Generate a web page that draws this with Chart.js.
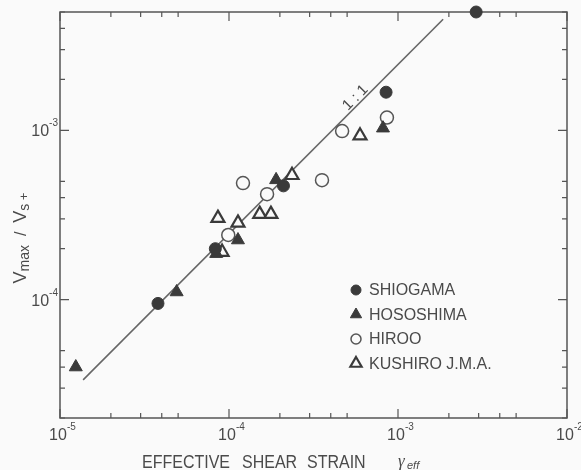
<!DOCTYPE html>
<html>
<head>
<meta charset="utf-8">
<script src="https://cdn.jsdelivr.net/npm/chart.js@4.4.1/dist/chart.umd.min.js"></script>
<style>
	html, body { margin: 0; padding: 0; background: #fafafa; }
	canvas { display: block; }
</style>
</head>
<body>
<canvas id="strainChart" width="581" height="470"></canvas>
<script>
// tick positions (log axes, minor ticks only at 2..5)
const xTickValues = [1e-5, 2e-5, 3e-5, 4e-5, 5e-5, 1e-4, 2e-4, 3e-4, 4e-4, 5e-4, 1e-3, 2e-3, 3e-3, 4e-3, 5e-3, 1e-2];
const xDecades = [1e-5, 1e-4, 1e-3, 1e-2];
const xDecadeExp = ['-5', '-4', '-3', '-2'];
const yTickValues = [2e-5, 3e-5, 4e-5, 5e-5, 1e-4, 2e-4, 3e-4, 4e-4, 5e-4, 1e-3, 2e-3, 3e-3, 4e-3, 5e-3];
const yDecades = [1e-4, 1e-3];
const yDecadeExp = ['-4', '-3'];

// stations
const shiogamaX = [2.9e-3, 8.5e-4, 2.1e-4, 8.3e-5, 3.8e-5];
const shiogamaY = [5.0e-3, 1.68e-3, 4.7e-4, 2.0e-4, 9.5e-5];

const hososhimaX = [1.24e-5, 4.9e-5, 8.4e-5, 1.13e-4, 1.9e-4, 8.15e-4];
const hososhimaY = [4.0e-5, 1.11e-4, 1.87e-4, 2.25e-4, 5.1e-4, 1.03e-3];

const hirooX = [1.21e-4, 1.68e-4, 9.9e-5, 4.67e-4, 8.6e-4, 3.55e-4];
const hirooY = [4.88e-4, 4.2e-4, 2.41e-4, 9.9e-4, 1.19e-3, 5.08e-4];

const kushiroX = [8.6e-5, 1.13e-4, 1.52e-4, 1.77e-4, 2.36e-4, 5.96e-4, 9.1e-5];
const kushiroY = [3.03e-4, 2.84e-4, 3.2e-4, 3.2e-4, 5.43e-4, 9.3e-4, 1.91e-4];

// the 1:1 line
const lineX = [1.37e-5, 1.85e-3];
const lineY = [3.36e-5, 4.53e-3];

const ink = '#3a3a3a';
const textColor = '#4a4a4a';
const paper = '#fafafa';
const sans = '"Liberation Sans", Arial, sans-serif';

function pts(xs, ys) {
	return xs.map((x, i) => ({ x: x, y: ys[i] }));
}

function isIn(v, list) {
	return list.some(d => Math.abs(v / d - 1) < 1e-6);
}

const decor = {
	id: 'decor',
	beforeDatasetsDraw(chart) {
		const ctx = chart.ctx;
		const a = chart.chartArea;
		const xs = chart.scales.x, ys = chart.scales.y;
		ctx.save();
		ctx.strokeStyle = '#555';
		ctx.lineWidth = 1.5;
		ctx.strokeRect(a.left, a.top, a.right - a.left, a.bottom - a.top);
		ctx.lineWidth = 1.2;
		ctx.beginPath();
		xTickValues.forEach(v => {
			const px = xs.getPixelForValue(v);
			const len = isIn(v, xDecades) ? 9 : 5;
			ctx.moveTo(px, a.bottom); ctx.lineTo(px, a.bottom - len);
			ctx.moveTo(px, a.top); ctx.lineTo(px, a.top + len);
		});
		yTickValues.forEach(v => {
			const py = ys.getPixelForValue(v);
			const len = isIn(v, yDecades) ? 9 : 5;
			ctx.moveTo(a.left, py); ctx.lineTo(a.left + len, py);
			ctx.moveTo(a.right, py); ctx.lineTo(a.right - len, py);
		});
		ctx.stroke();

		// decade labels: 10 with a raised exponent
		ctx.fillStyle = textColor;
		ctx.textBaseline = 'alphabetic';
		xDecades.forEach((v, i) => {
			const px = xs.getPixelForValue(v) - 2;
			ctx.font = '16px ' + sans;
			ctx.textAlign = 'center';
			ctx.fillText('10', px, 440);
			const w = ctx.measureText('10').width;
			ctx.font = '10px ' + sans;
			ctx.textAlign = 'left';
			ctx.fillText(xDecadeExp[i], px + w / 2, 430);
		});
		yDecades.forEach((v, i) => {
			const py = ys.getPixelForValue(v);
			ctx.font = '10px ' + sans;
			ctx.textAlign = 'right';
			ctx.fillText(yDecadeExp[i], 58, py - 4);
			const we = ctx.measureText(yDecadeExp[i]).width;
			ctx.font = '16px ' + sans;
			ctx.fillText('10', 58 - we, py + 6);
		});
		ctx.restore();
	},
	afterDraw(chart) {
		const ctx = chart.ctx;
		const xs = chart.scales.x, ys = chart.scales.y;
		ctx.save();
		ctx.fillStyle = textColor;

		// x title
		ctx.save();
		ctx.translate(0, 468);
		ctx.scale(1, 1.12);
		ctx.font = '16px ' + sans;
		ctx.textBaseline = 'alphabetic';
		ctx.textAlign = 'left';
		ctx.fillText('EFFECTIVE', 142, 0);
		ctx.fillText('SHEAR', 242, 0);
		ctx.fillText('STRAIN', 307, 0);
		ctx.restore();
		ctx.font = 'italic 17px "Liberation Serif", serif';
		ctx.fillText('γ', 398, 466);
		ctx.font = 'italic 11px ' + sans;
		ctx.fillText('eff', 407, 469);

		// y title, rotated
		ctx.save();
		ctx.translate(22, 238);
		ctx.rotate(-Math.PI / 2);
		const parts = [['V', 18, 0], ['max', 14, 3], ['  /  ', 16, 0], ['V', 18, 0], ['s', 14, 3], [' +', 13, 2]];
		let total = 0;
		parts.forEach(p => {
			ctx.font = p[1] + 'px ' + sans;
			total += ctx.measureText(p[0]).width;
		});
		let cx = -total / 2;
		parts.forEach(p => {
			ctx.font = p[1] + 'px ' + sans;
			ctx.fillText(p[0], cx, 4 + p[2]);
			cx += ctx.measureText(p[0]).width;
		});
		ctx.restore();

		// 1:1 label along the line
		ctx.save();
		ctx.translate(xs.getPixelForValue(5.6e-4), ys.getPixelForValue(1.56e-3));
		ctx.rotate(-Math.PI / 4);
		ctx.font = '15px ' + sans;
		ctx.textAlign = 'center';
		ctx.textBaseline = 'middle';
		ctx.fillText('1 : 1', 0, 0);
		ctx.restore();

		// legend
		const legendItems = chart.data.datasets.filter(d => d.legendRadius);
		legendItems.forEach((ds, i) => {
			const y = 290 + i * 24.5;
			ctx.fillStyle = ds.backgroundColor;
			ctx.strokeStyle = ds.borderColor;
			ctx.lineWidth = ds.borderWidth;
			Chart.helpers.drawPoint(ctx, {
				pointStyle: ds.pointStyle,
				radius: ds.legendRadius,
				borderWidth: ds.borderWidth,
				rotation: 0
			}, 356, y);
			ctx.fillStyle = textColor;
			ctx.font = '16px ' + sans;
			ctx.textAlign = 'left';
			ctx.textBaseline = 'middle';
			ctx.fillText(ds.label, 369, y + 1);
		});
		ctx.restore();
	}
};

new Chart(document.getElementById('strainChart'), {
	type: 'scatter',
	data: {
		datasets: [
			{
				label: 'SHIOGAMA',
				data: pts(shiogamaX, shiogamaY),
				pointStyle: 'circle',
				pointRadius: 6,
				legendRadius: 5,
				backgroundColor: ink,
				borderColor: ink,
				borderWidth: 1,
				clip: false
			},
			{
				label: 'HOSOSHIMA',
				data: pts(hososhimaX, hososhimaY),
				pointStyle: 'triangle',
				pointRadius: 7.5,
				legendRadius: 6.5,
				backgroundColor: ink,
				borderColor: ink,
				borderWidth: 1,
				clip: false
			},
			{
				label: 'HIROO',
				data: pts(hirooX, hirooY),
				pointStyle: 'circle',
				pointRadius: 6.5,
				legendRadius: 5,
				backgroundColor: paper,
				borderColor: '#555',
				borderWidth: 1.5,
				clip: false
			},
			{
				label: 'KUSHIRO J.M.A.',
				data: pts(kushiroX, kushiroY),
				pointStyle: 'triangle',
				pointRadius: 7.5,
				legendRadius: 6.5,
				backgroundColor: paper,
				borderColor: ink,
				borderWidth: 2.2,
				clip: false
			},
			{
				label: '1:1',
				data: pts(lineX, lineY),
				showLine: true,
				pointRadius: 0,
				borderColor: '#666',
				borderWidth: 1.6,
				backgroundColor: '#666'
			}
		]
	},
	options: {
		responsive: false,
		animation: false,
		devicePixelRatio: 1,
		layout: { padding: { top: 12, right: 14, left: 0, bottom: 0 } },
		plugins: {
			legend: { display: false },
			tooltip: { enabled: false }
		},
		scales: {
			x: {
				type: 'logarithmic',
				min: 1e-5,
				max: 1e-2,
				grid: { display: false },
				border: { display: false },
				afterBuildTicks: s => { s.ticks = xTickValues.map(v => ({ value: v })); },
				afterFit: s => { s.height = 52; },
				ticks: { display: false }
			},
			y: {
				type: 'logarithmic',
				min: 2e-5,
				max: 5e-3,
				grid: { display: false },
				border: { display: false },
				afterBuildTicks: s => { s.ticks = yTickValues.map(v => ({ value: v })); },
				afterFit: s => { s.width = 60; },
				ticks: { display: false }
			}
		}
	},
	plugins: [decor]
});
</script>
</body>
</html>
